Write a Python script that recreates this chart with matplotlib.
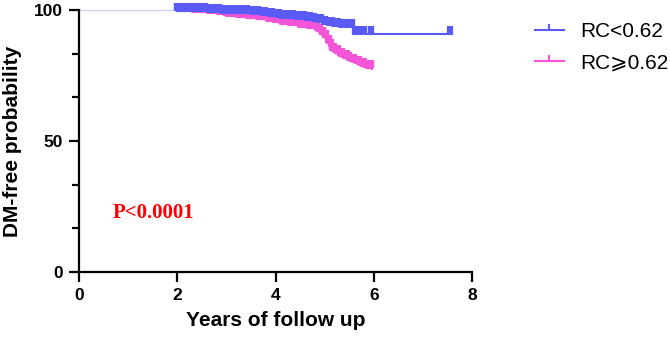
import numpy as np
import matplotlib.pyplot as plt
from matplotlib.path import Path
from matplotlib.lines import Line2D

# Kaplan-Meier step points
blue_t = [0, 2.0, 2.3, 2.6, 2.9, 3.2, 3.5, 3.7, 3.85, 4.0, 4.1, 4.2, 4.4, 4.6, 4.75,
          4.85, 4.95, 5.05, 5.15, 5.3, 5.58, 7.6]
blue_s = [100, 99.6, 99.45, 99.25, 99.0, 98.8, 98.4, 98.1, 97.8, 97.4, 97.0, 96.8, 96.5,
          96.2, 95.8, 95.3, 94.8, 94.3, 93.9, 93.4, 91.0, 91.0]

pink_t = [0, 2.0, 2.3, 2.6, 2.8, 3.0, 3.2, 3.4, 3.6, 3.8, 3.95, 4.1, 4.25, 4.45, 4.65,
          4.8, 4.88, 4.94, 5.0, 5.05, 5.1, 5.15, 5.22, 5.3, 5.38, 5.46, 5.55, 5.65,
          5.75, 5.85, 5.96]
pink_s = [100, 99.6, 99.3, 99.0, 98.5, 97.9, 97.4, 96.9, 96.4, 95.8, 95.3, 94.7, 94.2,
          93.6, 93.0, 92.4, 91.6, 90.6, 89.3, 87.5, 85.8, 84.5, 83.4, 82.4, 81.6, 80.9,
          80.2, 79.5, 78.8, 78.0, 77.6]

# censored observations (tick marks)
blue_cens = [2.0, 2.05, 2.1, 2.16, 2.22, 2.3, 2.36, 2.42, 2.5, 2.57, 2.63, 2.7, 2.78,
             2.85, 2.92, 3.0, 3.06, 3.13, 3.2, 3.27, 3.35, 3.42, 3.5, 3.57, 3.64, 3.71,
             3.78, 3.85, 3.92, 4.0, 4.07, 4.14, 4.21, 4.28, 4.36, 4.43, 4.5, 4.57, 4.64,
             4.71, 4.78, 4.85, 4.92, 5.0, 5.07, 5.14, 5.21, 5.28, 5.35, 5.42, 5.5, 5.55,
             5.62, 5.68, 5.74, 5.8, 5.95, 7.56]
pink_cens = [2.0, 2.05, 2.1, 2.16, 2.22, 2.3, 2.36, 2.42, 2.5, 2.57, 2.63, 2.7, 2.78,
             2.85, 2.92, 3.0, 3.06, 3.13, 3.2, 3.27, 3.35, 3.42, 3.5, 3.57, 3.64, 3.71,
             3.78, 3.85, 3.92, 4.0, 4.07, 4.14, 4.21, 4.28, 4.36, 4.43, 4.5, 4.57, 4.64,
             4.71, 4.78, 4.85, 4.88, 4.91, 4.94, 4.97, 5.0, 5.03, 5.06, 5.09, 5.12, 5.15,
             5.19, 5.23, 5.27, 5.31, 5.35, 5.4, 5.45, 5.5, 5.55, 5.6, 5.65, 5.7, 5.75,
             5.8, 5.85, 5.9, 5.95]

labels = ['RC<0.62', 'RC\u2a7e0.62']
colors = ['#5a5af4', '#f455d8']
x_ticks = [0, 2, 4, 6, 8]
y_ticks = [0, 50, 100]
p_text = 'P<0.0001'


def surv_at(times, surv, t):
    idx = np.searchsorted(times, t, side='right') - 1
    return np.array(surv)[idx]


tick_mark = Path([(0, 0), (0, 1)])

fig = plt.figure(figsize=(6.7, 3.46), dpi=100)
ax = fig.add_axes([0.1179, 0.2139, 0.5866, 0.7572])

# faint segment before first observation
ax.plot([0, 2.0], [100, 100], color='#d4d4fa', lw=1, clip_on=False, zorder=1)

for t, s, cens, c in [(pink_t, pink_s, pink_cens, colors[1]),
                      (blue_t, blue_s, blue_cens, colors[0])]:
    ax.step(t[1:], s[1:], where='post', color=c, lw=1.5, clip_on=False, zorder=3)
    ax.plot(cens, surv_at(t, s, cens), ls='none', marker=tick_mark, ms=11,
            mew=4.5, color=c, clip_on=False, zorder=3)

ax.set_xlim(0, 8)
ax.set_ylim(0, 100)
ax.set_xticks(x_ticks)
ax.set_yticks(y_ticks)
ax.set_yticks([50 / 3, 100 / 3, 200 / 3, 250 / 3], minor=True)
for side in ['top', 'right']:
    ax.spines[side].set_visible(False)
for side in ['left', 'bottom']:
    ax.spines[side].set_linewidth(1.6)
ax.tick_params(which='major', length=7.5, width=1.6, labelsize=12.5, pad=4)
ax.tick_params(which='minor', length=5, width=1.6)
for lab in ax.get_xticklabels() + ax.get_yticklabels():
    lab.set_fontweight('bold')
    lab.set_family('Liberation Sans')

ax.set_xlabel('Years of follow up', fontsize=15, fontweight='bold',
              family='Liberation Sans', labelpad=6)
ax.set_ylabel('DM-free probability', fontsize=15, fontweight='bold',
              family='Liberation Sans')
ax.yaxis.set_label_coords(-0.145, 0.5)

ax.text(1.51, 22.5, p_text, color='red', fontsize=15, fontweight='bold',
        family='Liberation Serif', ha='center', va='center')

handles = [Line2D([], [], color=c, lw=1.5, marker=tick_mark, ms=8, mew=1.5)
           for c in colors]
fig.legend(handles, labels, loc='upper left', bbox_to_anchor=(0.798, 0.935),
           frameon=False, borderaxespad=0, borderpad=0, numpoints=1,
           handlelength=1.4, handletextpad=0.8, labelspacing=0.55,
           prop={'family': ['Liberation Sans', 'DejaVu Sans'], 'size': 15})

fig.savefig('out.png', dpi=100)
